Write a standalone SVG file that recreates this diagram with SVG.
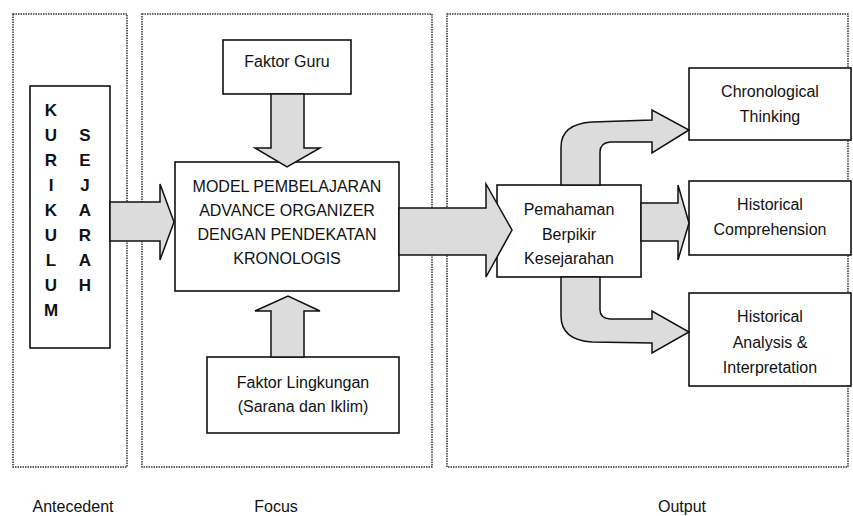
<svg xmlns="http://www.w3.org/2000/svg" width="853" height="516" viewBox="0 0 853 516">
<style>
.zone{fill:none;stroke:#333;stroke-width:1.5;stroke-dasharray:1.5 1}
.box{fill:#fff;stroke:#111;stroke-width:1.6}
.arr{fill:#dcdcdc;stroke:#111;stroke-width:1.5;stroke-linejoin:miter}
text{font-family:"Liberation Sans",Arial,sans-serif;font-size:16px;fill:#111;text-anchor:middle}
.v{font-weight:bold;font-size:17px}
</style>
<rect width="853" height="516" fill="#fff"/>
<g id="zones">
<rect class="zone" x="13" y="14" width="114" height="453"/>
<rect class="zone" x="142" y="14" width="290" height="453"/>
<rect class="zone" x="447" y="14" width="401" height="453"/>
<text x="73" y="512">Antecedent</text>
<text x="276" y="512">Focus</text>
<text x="682" y="512">Output</text>
</g>
<g id="kurikulum">
<rect class="box" x="30" y="86" width="80" height="262"/>
<text class="v" x="51" y="116">K</text>
<text class="v" x="51" y="141">U</text>
<text class="v" x="51" y="166">R</text>
<text class="v" x="51" y="191">I</text>
<text class="v" x="51" y="216">K</text>
<text class="v" x="51" y="241">U</text>
<text class="v" x="51" y="266">L</text>
<text class="v" x="51" y="291">U</text>
<text class="v" x="51" y="316">M</text>
<text class="v" x="85" y="141">S</text>
<text class="v" x="85" y="166">E</text>
<text class="v" x="85" y="191">J</text>
<text class="v" x="85" y="216">A</text>
<text class="v" x="85" y="241">R</text>
<text class="v" x="85" y="266">A</text>
<text class="v" x="85" y="291">H</text>
</g>
<g id="faktor-guru">
<rect class="box" x="223" y="40" width="128" height="54"/>
<text x="287" y="67">Faktor Guru</text>
</g>
<g id="model">
<rect class="box" x="175" y="162" width="224" height="129"/>
<text x="287" y="192">MODEL PEMBELAJARAN</text>
<text x="287" y="216">ADVANCE ORGANIZER</text>
<text x="287" y="240">DENGAN PENDEKATAN</text>
<text x="287" y="264">KRONOLOGIS</text>
</g>
<g id="faktor-lingkungan">
<rect class="box" x="207" y="357" width="192" height="76"/>
<text x="303" y="388">Faktor Lingkungan</text>
<text x="303" y="412">(Sarana dan Iklim)</text>
</g>
<g id="pemahaman">
<rect class="box" x="497" y="185" width="144" height="92"/>
<text x="569" y="215">Pemahaman</text>
<text x="569" y="240">Berpikir</text>
<text x="569" y="264">Kesejarahan</text>
</g>
<g id="chronological">
<rect class="box" x="689" y="68" width="162" height="72"/>
<text x="770" y="97">Chronological</text>
<text x="770" y="122">Thinking</text>
</g>
<g id="comprehension">
<rect class="box" x="689" y="181" width="162" height="74"/>
<text x="770" y="210">Historical</text>
<text x="770" y="235">Comprehension</text>
</g>
<g id="analysis">
<rect class="box" x="689" y="293" width="162" height="93"/>
<text x="770" y="322">Historical</text>
<text x="770" y="348">Analysis &amp;</text>
<text x="770" y="373">Interpretation</text>
</g>
<g id="connectors">
<path class="arr" d="M110 202 L160 202 L160 184 L174 222 L160 260 L160 241 L110 241 Z"/>
<path class="arr" d="M271 94 L271 148 L255 148 L287 167 L320 148 L304 148 L304 94 Z"/>
<path class="arr" d="M271 357 L271 311 L255 311 L288 296 L320 311 L304 311 L304 357 Z"/>
<path class="arr" d="M399 208 L486 208 L486 184 L512 230 L486 277 L486 255 L399 255 Z"/>
<path class="arr" d="M561 185 L561 147 Q561 124 592 122 L652 120 L652 110 L689 130 L652 153 L652 142 L610 142 Q600 143 600 152 L600 185 Z"/>
<path class="arr" d="M641 203 L678 203 L678 185 L689 223 L678 260 L678 241 L641 241 Z"/>
<path class="arr" d="M561 277 L561 316 Q561 340 592 342 L652 343 L652 353 L689 332 L652 311 L652 319 L610 319 Q600 318 600 310 L600 277 Z"/>
</g>
</svg>
